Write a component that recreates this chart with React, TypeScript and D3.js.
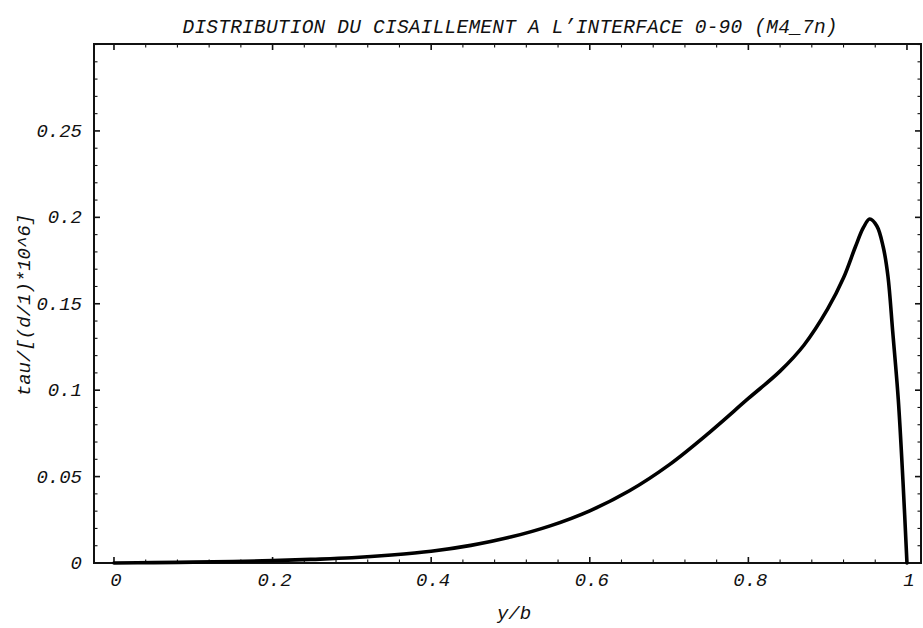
import React from "react";
import * as d3 from "d3";

const yOverB: number[] = [0, 0.05, 0.1, 0.15, 0.2, 0.25, 0.3, 0.35, 0.4, 0.45, 0.5, 0.55, 0.6, 0.65, 0.7, 0.75, 0.8, 0.84, 0.87, 0.9, 0.92, 0.935, 0.945, 0.953, 0.962, 0.97, 0.976, 0.982, 0.989, 0.995, 1.0];
const tau: number[] = [0, 0.0002, 0.0005, 0.0009, 0.0014, 0.0021, 0.003, 0.0046, 0.0068, 0.0102, 0.015, 0.0215, 0.0302, 0.0418, 0.0568, 0.0752, 0.0952, 0.111, 0.126, 0.147, 0.165, 0.183, 0.194, 0.199, 0.195, 0.183, 0.166, 0.134, 0.095, 0.047, 0];

const xMajorTicks: number[] = [0, 0.2, 0.4, 0.6, 0.8, 1];
const xTickLabels: string[] = ["0", "0.2", "0.4", "0.6", "0.8", "1"];
const yMajorTicks: number[] = [0, 0.05, 0.1, 0.15, 0.2, 0.25];
const yTickLabels: string[] = ["0", "0.05", "0.1", "0.15", "0.2", "0.25"];

const title = "DISTRIBUTION DU CISAILLEMENT A L\u2019INTERFACE 0-90 (M4_7n)";
const xLabel = "y/b";
const yLabel = "tau/[(d/1)*10^6]";

const W = 923;
const H = 628;
const L = 94, R = 921, T = 44, B = 563;

export default function App() {
  const x = d3.scaleLinear().domain([-0.0252, 1.0177]).range([L, R]);
  const y = d3.scaleLinear().domain([0, 0.3003]).range([B, T]);

  const xMinor = d3.range(0, 26).map((i) => i * 0.04).filter((v) => v <= 1.0177 && !xMajorTicks.some((m) => Math.abs(m - v) < 1e-6));
  const yMinor = d3.range(0, 31).map((i) => i * 0.01).filter((v) => v <= 0.3 && !yMajorTicks.some((m) => Math.abs(m - v) < 1e-6));

  const line = d3
    .line<number>()
    .x((_, i) => x(yOverB[i]))
    .y((d) => y(d))
    .curve(d3.curveCatmullRom.alpha(0.5));

  const font = "'Liberation Mono', 'DejaVu Sans Mono', monospace";
  const maj = 6, min = 3.5;
  const fs = 19;

  return (
    <svg width={W} height={H} style={{ position: "absolute", left: 0, top: 0, background: "#fff" }}>
      <rect x={0} y={0} width={W} height={H} fill="#fff" />
      <text x={510} y={33} textAnchor="middle" fontFamily={font} fontStyle="italic" fontSize={19.5} textLength={655} lengthAdjust="spacing" fill="#111">{title}</text>

      {xMajorTicks.map((v, i) => (
        <g key={"xm" + i}>
          <line x1={x(v)} x2={x(v)} y1={B} y2={B - maj} stroke="#111" strokeWidth={1.6} />
          <line x1={x(v)} x2={x(v)} y1={T} y2={T + maj} stroke="#111" strokeWidth={1.6} />
        </g>
      ))}
      {xMinor.map((v, i) => (
        <g key={"xn" + i}>
          <line x1={x(v)} x2={x(v)} y1={B} y2={B - min} stroke="#111" strokeWidth={1.1} />
          <line x1={x(v)} x2={x(v)} y1={T} y2={T + min} stroke="#111" strokeWidth={1.1} />
        </g>
      ))}
      {yMajorTicks.map((v, i) => (
        <g key={"ym" + i}>
          <line x1={L} x2={L + maj} y1={y(v)} y2={y(v)} stroke="#111" strokeWidth={1.6} />
          <line x1={R} x2={R - maj} y1={y(v)} y2={y(v)} stroke="#111" strokeWidth={1.6} />
        </g>
      ))}
      {yMinor.map((v, i) => (
        <g key={"yn" + i}>
          <line x1={L} x2={L + min} y1={y(v)} y2={y(v)} stroke="#111" strokeWidth={1.1} />
          <line x1={R} x2={R - min} y1={y(v)} y2={y(v)} stroke="#111" strokeWidth={1.1} />
        </g>
      ))}

      <rect x={L} y={T} width={R - L} height={B - T} fill="none" stroke="#111" strokeWidth={2} />

      {xMajorTicks.map((v, i) => (
        <text key={"xl" + i} x={x(v) + 2} y={586} textAnchor="middle" fontFamily={font} fontStyle="italic" fontSize={fs} fill="#111">{xTickLabels[i]}</text>
      ))}
      {yMajorTicks.map((v, i) => (
        <text key={"yl" + i} x={82} y={y(v) + 6} textAnchor="end" fontFamily={font} fontStyle="italic" fontSize={fs} fill="#111">{yTickLabels[i]}</text>
      ))}

      <text x={514} y={619} textAnchor="middle" fontFamily={font} fontStyle="italic" fontSize={fs} fill="#111">{xLabel}</text>
      <text transform={`translate(30,305) rotate(-90)`} textAnchor="middle" fontFamily={font} fontStyle="italic" fontSize={fs} fill="#111">{yLabel}</text>

      <path d={line(tau) || ""} fill="none" stroke="#000" strokeWidth={3.6} strokeLinejoin="round" strokeLinecap="round" />
    </svg>
  );
}
